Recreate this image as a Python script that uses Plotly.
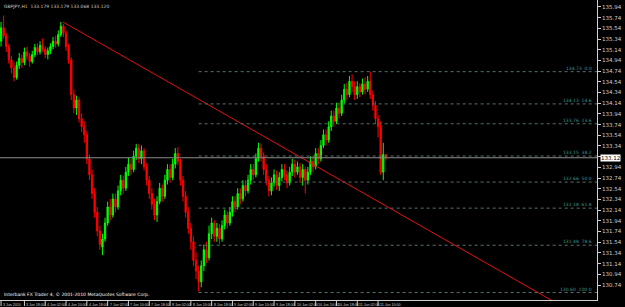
import plotly.graph_objects as go

# ---------------- data ----------------
symbol_header = "GBPJPY,H1  133.179 133.179 133.068 133.120"
copyright_text = "Interbank FX Trader 4, \u00a9 2001-2010 MetaQuotes Software Corp."

opens = [135.30,135.55,135.40,135.20,134.95,134.80,134.62,134.85,134.98,134.90,
         135.10,135.02,134.92,135.05,135.18,135.10,135.22,135.15,135.05,135.12,
         135.20,135.30,135.25,135.42,135.58,135.45,135.20,134.95,134.30,134.05,
         134.20,133.85,133.70,133.55,133.10,132.80,132.45,132.10,131.75,131.45,
         131.60,131.90,132.20,132.05,132.35,132.20,132.50,132.70,132.55,132.85,
         133.00,132.90,133.15,133.30,133.10,133.25,132.95,132.70,132.45,132.25,
         132.05,132.30,132.55,132.40,132.70,132.90,132.75,133.00,133.20,133.05,
         132.70,132.40,132.10,131.80,131.55,131.20,131.00,130.80,131.10,131.40,
         131.25,131.70,131.90,131.65,131.80,131.60,131.85,132.05,131.90,132.10,
         132.30,132.20,132.45,132.35,132.60,132.50,132.70,132.90,132.80,133.10,
         133.30,133.15,132.90,132.70,132.50,132.65,132.80,132.60,132.75,132.90,
         132.80,132.65,132.85,133.00,132.85,132.95,132.75,132.90,132.70,132.85,
         133.05,132.95,133.20,133.10,133.35,133.55,133.45,133.70,133.90,133.80,
         134.05,133.95,134.20,134.40,134.30,134.55,134.45,134.30,134.45,134.35,
         134.50,134.40,134.55,134.30,134.10,133.85,133.70,132.85,133.179]
highs = [135.66,135.78,135.45,135.25,135.02,134.90,134.92,135.08,135.05,135.18,
         135.20,135.08,135.12,135.25,135.26,135.30,135.35,135.20,135.18,135.26,
         135.38,135.40,135.50,135.66,135.62,135.50,135.25,135.00,134.40,134.28,
         134.25,133.95,133.80,133.62,133.18,132.90,132.55,132.20,131.85,131.70,
         132.00,132.30,132.35,132.45,132.45,132.60,132.80,132.78,132.95,133.12,
         133.10,133.25,133.38,133.38,133.35,133.30,133.02,132.78,132.55,132.35,
         132.40,132.65,132.62,132.80,133.00,133.00,133.10,133.30,133.32,133.10,
         132.78,132.50,132.20,131.90,131.65,131.35,131.10,131.20,131.50,131.55,
         131.85,132.00,131.95,131.90,131.88,131.95,132.15,132.12,132.20,132.40,
         132.40,132.55,132.55,132.70,132.70,132.80,133.00,133.00,133.20,133.40,
         133.38,133.22,133.00,132.78,132.75,132.90,132.88,132.85,133.00,133.00,
         132.88,132.95,133.10,133.08,133.05,133.02,133.00,132.95,132.95,133.15,
         133.15,133.30,133.30,133.45,133.65,133.65,133.80,134.00,134.00,134.15,
         134.15,134.30,134.50,134.52,134.65,134.68,134.55,134.55,134.52,134.60,
         134.62,134.65,134.73,134.38,134.18,133.92,133.80,133.40,133.179]
lows = [135.20,135.35,135.10,134.88,134.70,134.55,134.58,134.78,134.80,134.85,
        134.95,134.82,134.88,135.00,135.04,135.05,135.10,134.98,134.96,135.06,
        135.15,135.18,135.20,135.38,135.38,135.12,134.88,134.20,133.95,133.92,
        133.78,133.60,133.40,133.00,132.70,132.35,132.00,131.65,131.40,131.30,
        131.55,131.85,131.95,132.00,132.10,132.15,132.42,132.45,132.50,132.78,
        132.80,132.85,133.08,133.02,133.00,132.88,132.60,132.35,132.15,131.95,
        131.92,132.25,132.30,132.35,132.62,132.65,132.70,132.92,132.98,132.60,
        132.30,132.00,131.70,131.40,131.10,130.85,130.62,130.70,131.00,131.15,
        131.20,131.60,131.55,131.55,131.50,131.55,131.78,131.80,131.85,132.02,
        132.10,132.15,132.25,132.30,132.40,132.45,132.62,132.70,132.75,133.05,
        133.05,132.80,132.60,132.40,132.42,132.58,132.52,132.50,132.68,132.70,
        132.55,132.60,132.78,132.75,132.80,132.65,132.60,132.45,132.62,132.80,
        132.85,132.90,133.00,133.05,133.30,133.35,133.40,133.62,133.70,133.75,
        133.85,133.90,134.12,134.20,134.25,134.35,134.20,134.22,134.25,134.30,
        134.30,134.35,134.22,134.00,133.75,133.50,132.80,132.70,133.068]
closes = [135.55,135.40,135.20,134.95,134.80,134.62,134.85,134.98,134.90,135.10,
          135.02,134.92,135.05,135.18,135.10,135.22,135.15,135.05,135.12,135.20,
          135.30,135.25,135.42,135.58,135.45,135.20,134.95,134.30,134.05,134.20,
          133.85,133.70,133.55,133.10,132.80,132.45,132.10,131.75,131.50,131.60,
          131.90,132.20,132.05,132.35,132.20,132.50,132.70,132.55,132.85,133.00,
          132.90,133.15,133.30,133.10,133.25,132.95,132.70,132.45,132.25,132.05,
          132.30,132.55,132.40,132.70,132.90,132.75,133.00,133.20,133.05,132.70,
          132.40,132.10,131.80,131.55,131.20,131.00,130.80,131.10,131.40,131.25,
          131.70,131.90,131.65,131.80,131.60,131.85,132.05,131.90,132.10,132.30,
          132.20,132.45,132.35,132.60,132.50,132.70,132.90,132.80,133.10,133.30,
          133.15,132.90,132.70,132.50,132.65,132.80,132.60,132.75,132.90,132.80,
          132.65,132.85,133.00,132.85,132.95,132.75,132.90,132.70,132.85,133.05,
          132.95,133.20,133.10,133.35,133.55,133.45,133.70,133.90,133.80,134.05,
          133.95,134.20,134.40,134.30,134.55,134.45,134.30,134.45,134.35,134.50,
          134.40,134.55,134.30,134.10,133.85,133.70,132.85,133.18,133.120]
bars = list(range(len(closes)))

date_label_bars = [0, 9, 17, 25, 33, 41, 49, 57, 65, 73, 81, 89, 97, 105, 113, 121, 129, 137, 145]
date_label_text = ["3 Jun 2010", "3 Jun 18:00", "4 Jun 02:00", "4 Jun 10:00", "4 Jun 18:00",
                   "7 Jun 02:00", "7 Jun 10:00", "7 Jun 18:00", "8 Jun 02:00", "8 Jun 10:00",
                   "8 Jun 18:00", "9 Jun 02:00", "9 Jun 10:00", "9 Jun 18:00", "10 Jun 02:00",
                   "10 Jun 10:00", "10 Jun 18:00", "11 Jun 02:00", "11 Jun 10:00"]

price_ticks = [round(135.94 - 0.2 * i, 2) for i in range(27)]

current_price = 133.12

fib_high_bar, fib_high = 142, 134.73
fib_low_bar, fib_low = 76, 130.60
fib_levels = [0.0, 14.6, 23.6, 38.2, 50.0, 61.8, 78.6, 100.0]

trend_anchor_bars = [23.8, 145.8]
trend_anchor_prices = [135.66, 132.28]

# ---------------- figure ----------------
X_MIN, X_MAX = -0.4, 229.2
Y_MIN, Y_MAX = 130.46, 136.07

fig = go.Figure()

fig.add_trace(go.Candlestick(
    x=bars, open=opens, high=highs, low=lows, close=closes,
    increasing=dict(line=dict(color="#00ff00", width=1), fillcolor="#00ff00"),
    decreasing=dict(line=dict(color="#ff0000", width=1), fillcolor="#ff0000"),
    whiskerwidth=0, showlegend=False, hoverinfo="skip"))

# current price line
fig.add_shape(type="line", xref="paper", x0=0, x1=1, yref="y",
              y0=current_price, y1=current_price,
              line=dict(color="#8c8c8c", width=1))

# fibonacci levels
rng = fib_high - fib_low
for lvl in fib_levels:
    p = fib_high - rng * lvl / 100.0
    fig.add_shape(type="line", xref="x", x0=fib_low_bar, x1=X_MAX, yref="y", y0=p, y1=p,
                  line=dict(color="#56706e", width=1, dash="dot"))
    fig.add_annotation(x=0.995, xref="paper", y=p, yref="y", xanchor="right", yanchor="bottom",
                       text=f"{p:.2f}  {lvl:.1f}", showarrow=False,
                       font=dict(family="DejaVu Sans", size=4.5, color="#3f9a98"),
                       yshift=-1)

# trend line (ray)
slope = (trend_anchor_prices[1] - trend_anchor_prices[0]) / (trend_anchor_bars[1] - trend_anchor_bars[0])
x_end = X_MAX
y_end = trend_anchor_prices[0] + slope * (x_end - trend_anchor_bars[0])
fig.add_trace(go.Scatter(x=[trend_anchor_bars[0], x_end], y=[trend_anchor_prices[0], y_end],
                         mode="lines", line=dict(color="#e01010", width=1),
                         showlegend=False, hoverinfo="skip"))

# date labels with ticks
for b, t in zip(date_label_bars, date_label_text):
    fig.add_annotation(x=b, xref="x", y=-0.003, yref="paper", xanchor="left", yanchor="top",
                       text=t, showarrow=False, xshift=0,
                       font=dict(family="Liberation Sans Narrow, Liberation Sans", size=3.6, color="#d0d0d0"))
    fig.add_shape(type="line", xref="x", x0=b, x1=b, yref="paper", y0=0, y1=-0.02,
                  line=dict(color="#d0d0d0", width=1))

# header and copyright
fig.add_annotation(x=0.004, xref="paper", y=0.995, yref="paper", xanchor="left", yanchor="top",
                   text=symbol_header, showarrow=False,
                   font=dict(family="DejaVu Sans", size=4.5, color="#c8c8c8"))
fig.add_annotation(x=0.004, xref="paper", y=0.003, yref="paper", xanchor="left", yanchor="bottom",
                   text=copyright_text, showarrow=False,
                   font=dict(family="DejaVu Sans", size=4.5, color="#ffffff"))

# current price label on axis (covers the nearest axis label, as in the terminal)
tick_text = ["" if abs(v - current_price) < 0.1 else f"{v:.2f}" for v in price_ticks]
fig.add_annotation(x=1, xref="paper", y=current_price, yref="y", xanchor="left", yanchor="middle",
                   text=f"{current_price:.2f}", showarrow=False, bgcolor="#ffffff", borderpad=0,
                   font=dict(family="DejaVu Sans", size=5.5, color="#000000"), xshift=3)

fig.update_layout(
    width=625, height=307,
    margin=dict(l=0, r=28, t=0, b=7),
    paper_bgcolor="#000000", plot_bgcolor="#000000",
    xaxis=dict(range=[X_MIN, X_MAX], showgrid=False, zeroline=False, showticklabels=False,
               rangeslider=dict(visible=False), showline=True, linecolor="#d0d0d0", linewidth=1,
               ticks=""),
    yaxis=dict(range=[Y_MIN, Y_MAX], side="right", showgrid=False, zeroline=False,
               tickvals=price_ticks, ticktext=tick_text,
               tickfont=dict(family="DejaVu Sans", size=5.5, color="#d0d0d0"),
               ticks="outside", ticklen=3, tickcolor="#d0d0d0",
               showline=True, linecolor="#d0d0d0", linewidth=1),
)

fig.write_html("out.html")
